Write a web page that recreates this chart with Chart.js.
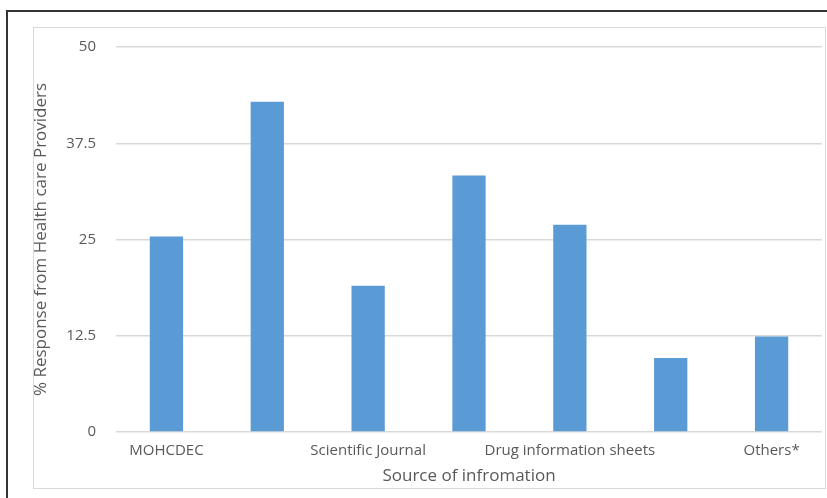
<!DOCTYPE html>
<html lang="en">
<head>
  <meta charset="UTF-8">
  <title>Source of information</title>
  <script src="https://cdn.jsdelivr.net/npm/chart.js"></script>
  <style>
    body { margin: 0; background: #fff; }
    .frame { position: absolute; left: 6px; top: 10px; width: 840px; height: 500px; border: 2px solid #333; }
    .box { position: absolute; left: 33px; top: 27px; width: 791px; height: 460px; border: 1px solid #d9d9d9; }
    .box canvas { position: absolute; left: -3px; top: -10px; }
  </style>
</head>
<body>
  <div class="frame"></div>
  <div class="box">
    <canvas id="chart" width="794" height="470"></canvas>
  </div>
  <script>
    // data
    const categories = ['MOHCDEC', 'Internet', 'Scientific Journal', 'Colleagues', 'Drug information sheets', 'Textbooks', 'Others*'];
    const shownLabels = [true, false, true, false, true, false, true];
    const responses = [25.4, 42.9, 19.0, 33.3, 26.9, 9.6, 12.4];
    const yTicks = [0, 12.5, 25, 37.5, 50];

    const textColor = '#595959';
    const fontFamily = '"Open Sans", "DejaVu Sans", sans-serif';

    new Chart(document.getElementById('chart'), {
      type: 'bar',
      data: {
        labels: categories,
        datasets: [{
          data: responses,
          backgroundColor: '#5b9bd5',
          categoryPercentage: 1,
          barPercentage: 0.33
        }]
      },
      options: {
        responsive: false,
        animation: false,
        layout: { padding: { top: 3, right: 3, bottom: 2, left: 0 } },
        plugins: { legend: { display: false }, tooltip: { enabled: false } },
        scales: {
          x: {
            grid: { display: false },
            border: { display: false },
            ticks: {
              color: textColor,
              font: { family: fontFamily, size: 15 },
              maxRotation: 0,
              autoSkip: false,
              padding: 2,
              callback: (v, i) => shownLabels[i] ? categories[i] : ''
            },
            title: {
              display: true,
              text: 'Source of infromation',
              color: textColor,
              font: { family: fontFamily, size: 17 },
              padding: { top: 3, bottom: 0 }
            },
            afterFit: s => { s.height = 54; }
          },
          y: {
            min: 0,
            max: 50,
            afterBuildTicks: s => { s.ticks = yTicks.map(v => ({ value: v })); },
            grid: { color: '#d9d9d9', lineWidth: 1.5, drawTicks: false },
            border: { display: false },
            ticks: {
              color: textColor,
              font: { family: fontFamily, size: 15 },
              padding: 20
            },
            title: {
              display: true,
              text: '% Response from Health care Providers',
              color: textColor,
              font: { family: fontFamily, size: 17 },
              padding: { top: 0, bottom: 2 }
            },
            afterFit: s => { s.width = 85; }
          }
        }
      }
    });
  </script>
</body>
</html>
